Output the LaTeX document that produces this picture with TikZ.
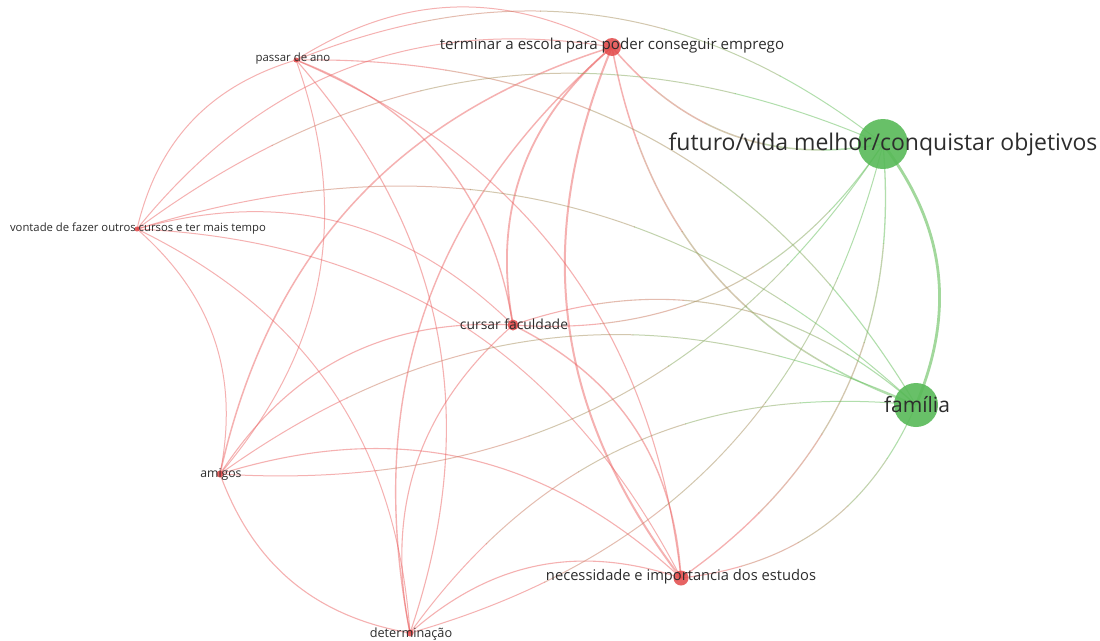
\documentclass[tikz,border=0pt]{standalone}
\usepackage{fontspec}
\setmainfont{Open Sans}
\definecolor{linkred}{RGB}{236,100,100}
\definecolor{linkgreen}{RGB}{100,190,90}
\definecolor{nodered}{RGB}{226,72,72}
\definecolor{nodegreen}{RGB}{88,186,88}
\definecolor{labtext}{RGB}{45,45,45}
% gradient link: #1 red end, #2 green end, #3 bend side, #4 width
\newcommand\gradlink[4]{%
  \pgfpointdiff{\pgfpointanchor{#1}{center}}{\pgfpointanchor{#2}{center}}%
  \pgfgetlastxy{\mylkx}{\mylky}%
  \pgfmathsetmacro\mylkL{1.057*veclen(\mylkx,\mylky)}%
  \foreach \k in {0,1,2,3,4}{%
    \pgfmathsetmacro\mylkoff{\k*0.2*\mylkL}%
    \pgfmathsetmacro\mylkon{(\k==4 ? 0.4 : 0.201)*\mylkL}%
    \pgfmathtruncatemacro\mylkpc{\k*25}%
    \draw[line width=#4, draw=linkgreen!\mylkpc!linkred, draw opacity=0.5,
      dash pattern=on 0pt off \mylkoff pt on \mylkon pt off 5000pt]
      (#1) to[bend #3=30] (#2);
  }%
}
\begin{document}
\begin{tikzpicture}[x=1pt,y=-1pt,
  redlink/.style={draw=linkred, draw opacity=0.5, line width=#1},
  redlink/.default=1pt,
  greenlink/.style={draw=linkgreen, draw opacity=0.6, line width=#1},
  rednode/.style={circle, inner sep=0pt, fill=nodered, fill opacity=0.85, minimum size=#1},
  greennode/.style={circle, inner sep=0pt, fill=nodegreen, fill opacity=0.9, minimum size=#1},
  lab/.style={text=labtext, inner sep=0pt, font=\fontsize{#1}{#1}\selectfont},
  bb/.style={bend right=30}
]
\useasboundingbox (0,0) rectangle (1100,640);
\fill[white] (0,0) rectangle (1100,640);

% node positions
\coordinate (ter) at (612,47);
\coordinate (nec) at (681,578);
\coordinate (fam) at (916,405);
\coordinate (cur) at (513,325);
\coordinate (ami) at (220,474);
\coordinate (det) at (410,633);
\coordinate (fut) at (883,144);
\coordinate (pas) at (296,60);
\coordinate (von) at (137,229);

% red-red links
\draw[redlink=2.0pt] (ter) to[bb] (nec);
\draw[redlink=1.8pt] (ter) to[bb] (cur);
\draw[redlink=1.5pt] (ter) to[bb] (ami);
\draw[redlink=1.4pt] (ter) to[bb] (det);
\draw[redlink] (ter) to[bb] (pas);
\draw[redlink] (ter) to[bb] (von);
\draw[redlink=1.4pt] (nec) to[bb] (cur);
\draw[redlink=1.1pt] (nec) to[bb] (ami);
\draw[redlink=1.1pt] (nec) to[bb] (det);
\draw[redlink=1.1pt] (nec) to[bb] (pas);
\draw[redlink] (nec) to[bb] (von);
\draw[redlink=1.1pt] (cur) to[bb] (ami);
\draw[redlink=1.1pt] (cur) to[bb] (det);
\draw[redlink=1.3pt] (cur) to[bb] (pas);
\draw[redlink] (cur) to[bb] (von);
\draw[redlink=1.1pt] (ami) to[bb] (det);
\draw[redlink] (ami) to[bb] (pas);
\draw[redlink] (ami) to[bb] (von);
\draw[redlink=1.1pt] (det) to[bb] (pas);
\draw[redlink] (det) to[bb] (von);
\draw[redlink] (pas) to[bb] (von);

% red-green links
\gradlink{ter}{fam}{right}{1.5pt}
\gradlink{ter}{fut}{right}{1.5pt}
\gradlink{nec}{fam}{right}{1.1pt}
\gradlink{nec}{fut}{right}{1.3pt}
\gradlink{cur}{fam}{left}{1.1pt}
\gradlink{ami}{fam}{left}{1pt}
\gradlink{det}{fam}{left}{1pt}
\gradlink{pas}{fam}{left}{1.1pt}
\gradlink{von}{fam}{left}{1pt}
\gradlink{cur}{fut}{right}{1.1pt}
\gradlink{ami}{fut}{right}{1pt}
\gradlink{det}{fut}{right}{1pt}
\gradlink{pas}{fut}{left}{1pt}
\gradlink{von}{fut}{left}{1pt}

% green-green link
\draw[greenlink=2.8pt] (fam) to[bb] (fut);

% node circles
\node[rednode=18pt] (terC) at (ter) {};
\node[rednode=15pt] (necC) at (nec) {};
\node[greennode=44pt] (famC) at (fam) {};
\node[rednode=11pt] (curC) at (cur) {};
\node[rednode=7pt] (amiC) at (ami) {};
\node[rednode=7pt] (detC) at (det) {};
\node[greennode=50pt] (futC) at (fut) {};
\node[rednode=5pt] (pasC) at (pas) {};
\node[rednode=5pt] (vonC) at (von) {};

% labels
\node[lab=15.1] (terL) at (612,46) {terminar a escola para poder conseguir emprego};
\node[lab=14.7] (necL) at (681,577) {necessidade e importancia dos estudos};
\node[lab=21] (famL) at (917,405) {família};
\node[lab=13.9] (curL) at (514,324) {cursar faculdade};
\node[lab=12.2] (amiL) at (221,474) {amigos};
\node[lab=12.7] (detL) at (411,634) {determinação};
\node[lab=23] (futL) at (883,144) {futuro/vida melhor/conquistar objetivos};
\node[lab=11.4] (pasL) at (293,59) {passar de ano};
\node[lab=11.3] (vonL) at (138,229) {vontade de fazer outros cursos e ter mais tempo};
\end{tikzpicture}
\end{document}
